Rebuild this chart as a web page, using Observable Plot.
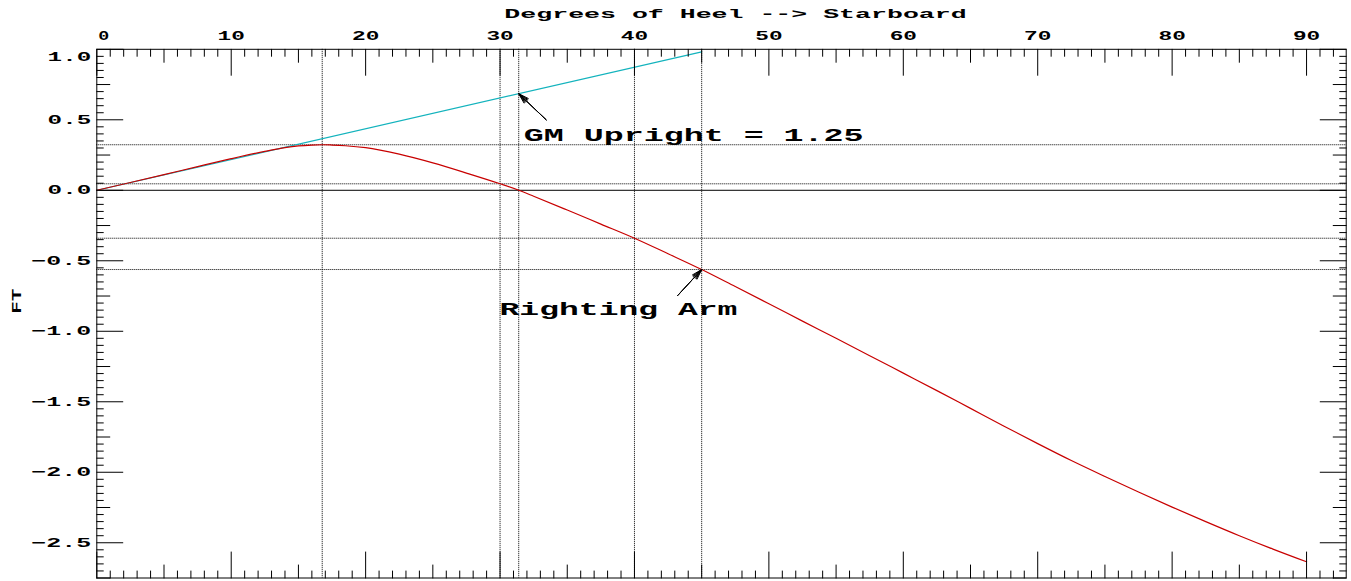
<!DOCTYPE html>
<html>
<head>
<meta charset="utf-8">
<script src="https://cdn.jsdelivr.net/npm/d3@7"></script>
<script src="https://cdn.jsdelivr.net/npm/@observablehq/plot@0.6"></script>
<style>
  html, body { margin: 0; padding: 0; background: #fff; }
  #chart svg { display: block; }
</style>
</head>
<body>
<div id="chart"></div>
<script>
// Righting-arm (GZ) curve, heel angle in degrees vs. arm in feet
const heelDeg = [0, 2.5, 5, 7.5, 10, 12.5, 14, 15, 16, 16.77, 17.5, 18.5, 20, 22.5, 25, 27.5, 30, 31.39, 32.5, 35,
  37.5, 40, 42.5, 45, 47.5, 50, 52.5, 55, 57.5, 60, 62.5, 65, 67.5, 70, 72.5, 75, 77.5, 80, 82.5, 85, 87.5, 90];
const rightingArm = [0, 0.055, 0.111, 0.168, 0.224, 0.276, 0.303, 0.315, 0.321, 0.323, 0.321, 0.316, 0.302, 0.256, 0.194, 0.122, 0.046, 0, -0.042, -0.140,
  -0.240, -0.340, -0.450, -0.562, -0.683, -0.805, -0.928, -1.050, -1.173, -1.297, -1.421, -1.547, -1.673, -1.797, -1.917, -2.030, -2.140, -2.247, -2.350, -2.450, -2.545, -2.635];

// Initial-stability tangent (GM upright = 1.25 ft per radian)
const gmDeg = [0, 45];
const gmArm = [0, 0.982];

// Reference lines
const refHeel = [16.77, 30, 31.39, 40, 45];
const refArm = [0.323, 0.046, -0.34, -0.562];

// Annotations: text, anchor point, arrow tail and arrow tip
const noteText = ["GM Upright = 1.25", "Righting Arm"];
const noteX = [31.76, 29.96];
const noteY = [0.353, -0.887];
const arrowTailX = [33.43, 43.22];
const arrowTailY = [0.5, -0.746];
const arrowTipX = [31.39, 45];
const arrowTipY = [0.685, -0.562];

// Axis labels
const xTickValues = [0, 10, 20, 30, 40, 50, 60, 70, 80, 90];
const xTickLabels = ["0", "10", "20", "30", "40", "50", "60", "70", "80", "90"];
const yTickValues = [1.0, 0.5, 0.0, -0.5, -1.0, -1.5, -2.0, -2.5];
const yTickLabels = ["1.0", "0.5", "0.0", "\u22120.5", "\u22121.0", "\u22121.5", "\u22122.0", "\u22122.5"];
const xTitle = "Degrees of Heel --> Starboard";
const yTitle = "FT";

const FONT = "Liberation Mono, DejaVu Sans Mono, monospace";

// Tick positions: every degree along x, every 0.05 ft along y
const xMinor = d3.range(0, 93);
const yMinorIdx = d3.range(-55, 21);

const spike = {draw(context, l) { context.moveTo(0, 0); context.lineTo(0, -l); }};

function xTicks(anchor, rotate) {
  const groups = [
    [xMinor.filter(v => v % 5 !== 0), 7],
    [xMinor.filter(v => v % 5 === 0 && v % 10 !== 0), 13],
    [xMinor.filter(v => v % 10 === 0), 26]
  ];
  return groups.map(([vals, len]) => Plot.vector(vals, {
    x: d => d, frameAnchor: anchor, rotate, anchor: "start", length: len,
    shape: spike, stroke: "#000", strokeWidth: 1
  }));
}
function yTicks(anchor, rotate) {
  const groups = [
    [yMinorIdx.filter(i => i % 5 !== 0), 6.5],
    [yMinorIdx.filter(i => i % 5 === 0 && i % 10 !== 0), 13],
    [yMinorIdx.filter(i => i % 10 === 0), 26]
  ];
  return groups.map(([vals, len]) => Plot.vector(vals, {
    y: i => i * 0.05, frameAnchor: anchor, rotate, anchor: "start", length: len,
    shape: spike, stroke: "#000", strokeWidth: 1
  }));
}

// Barbed arrowheads: several heads of decreasing spread on the same shaft
function barbedArrows(headAngle) {
  return Plot.arrow(noteText, {
    x1: (d, i) => arrowTailX[i], y1: (d, i) => arrowTailY[i],
    x2: (d, i) => arrowTipX[i], y2: (d, i) => arrowTipY[i],
    stroke: "#000", strokeWidth: 1, headLength: 16, headAngle
  });
}

const dotted = {stroke: "#000", strokeWidth: 1, strokeDasharray: "1,1"};

const chart = Plot.plot({
  width: 1351,
  height: 581,
  marginLeft: 96.3,
  marginRight: 5.3,
  marginTop: 48.8,
  marginBottom: 3.5,
  x: {domain: [0, 92.95], axis: null},
  y: {domain: [-2.75, 1.0], axis: null},
  style: {background: "#fff", overflow: "visible"},
  marks: [
    // reference grid
    Plot.ruleX(refHeel, {x: d => d, ...dotted}),
    Plot.ruleY(refArm, {y: d => d, ...dotted}),
    Plot.ruleY([0], {stroke: "#000", strokeWidth: 1}),

    // curves
    Plot.line(gmDeg, {x: d => d, y: (d, i) => gmArm[i], stroke: "#13b3bd", strokeWidth: 1.2}),
    Plot.line(heelDeg, {x: d => d, y: (d, i) => rightingArm[i], stroke: "#c80000", strokeWidth: 1.2, curve: "monotone-x"}),

    // annotations
    barbedArrows(34),
    barbedArrows(24),
    barbedArrows(14),
    Plot.text(noteText, {
      x: (d, i) => noteX[i], y: (d, i) => noteY[i], text: d => d,
      textAnchor: "start", lineAnchor: "bottom",
      fontFamily: FONT, fontWeight: "bold", fontSize: 18, fill: "#000"
    }),

    // frame and inward ticks
    Plot.frame({stroke: "#000", strokeWidth: 1}),
    ...xTicks("top", 180),
    ...xTicks("bottom", 0),
    ...yTicks("left", 90),
    ...yTicks("right", -90),

    // top axis labels
    Plot.text([0], {
      x: i => xTickValues[i], text: i => xTickLabels[i], frameAnchor: "top",
      dy: -9.5, dx: 1.4, lineAnchor: "bottom", textAnchor: "start",
      fontFamily: FONT, fontWeight: "bold", fontSize: 13
    }),
    Plot.text(d3.range(1, xTickValues.length), {
      x: i => xTickValues[i], text: i => xTickLabels[i], frameAnchor: "top",
      dy: -9.5, lineAnchor: "bottom", textAnchor: "middle",
      fontFamily: FONT, fontWeight: "bold", fontSize: 13
    }),

    // left axis labels
    Plot.text([0], {
      y: i => yTickValues[i], text: i => yTickLabels[i], frameAnchor: "left",
      dx: -5.6, dy: 7.5, lineAnchor: "middle", textAnchor: "end",
      fontFamily: FONT, fontWeight: "bold", fontSize: 13
    }),
    Plot.text(d3.range(1, yTickValues.length), {
      y: i => yTickValues[i], text: i => yTickLabels[i], frameAnchor: "left",
      dx: -5.6, lineAnchor: "middle", textAnchor: "end",
      fontFamily: FONT, fontWeight: "bold", fontSize: 13
    }),

    // axis titles
    Plot.text([xTitle], {
      text: d => d, frameAnchor: "top", dx: 14, dy: -31.1, lineAnchor: "bottom",
      fontFamily: FONT, fontWeight: "bold", fontSize: 12
    }),
    Plot.text([yTitle], {
      text: d => d, frameAnchor: "left", dx: -80, rotate: -90, lineAnchor: "middle",
      fontFamily: FONT, fontWeight: "bold", fontSize: 13
    })
  ]
});

// Widen the monospaced glyphs to the plotter's broad letter pitch
const pitch = new Map();
[...xTickLabels, ...yTickLabels].forEach(s => pitch.set(s, [16.3, 11]));
pitch.set(xTitle, [16.1, 11.5]);
pitch.set(yTitle, [16, 9]);
noteText.forEach(s => pitch.set(s, [20.4, 13.5]));
chart.querySelectorAll("text").forEach(t => {
  const p = pitch.get(t.textContent);
  if (!p) return;
  const n = [...t.textContent].length;
  t.setAttribute("textLength", p[0] * (n - 1) + p[1]);
  t.setAttribute("lengthAdjust", "spacingAndGlyphs");
});

document.getElementById("chart").appendChild(chart);
</script>
</body>
</html>
